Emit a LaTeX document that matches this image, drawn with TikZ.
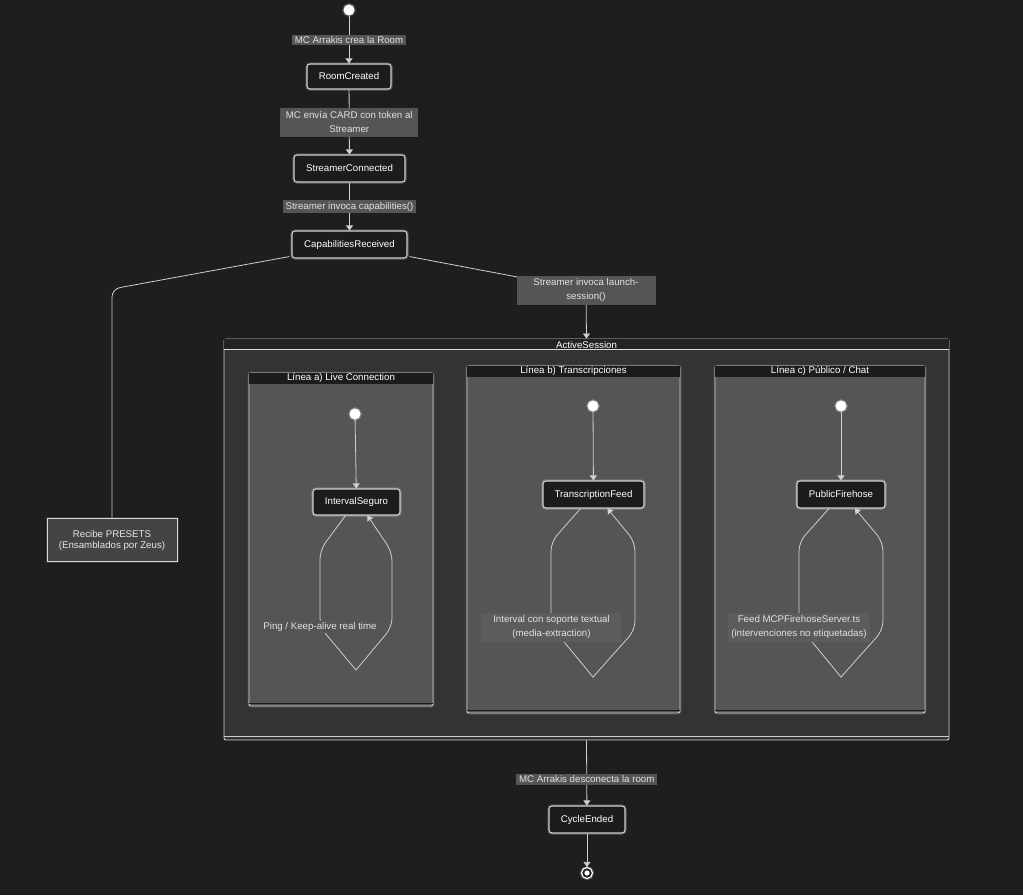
\documentclass[tikz,border=0pt]{standalone}
\usepackage{fontspec}
\setmainfont{Liberation Sans}
\usetikzlibrary{arrows.meta}
\definecolor{bg}{HTML}{1E1E1E}
\definecolor{linec}{HTML}{CFCFCF}
\definecolor{nodefill}{HTML}{1C1C1C}
\definecolor{nodeborder}{HTML}{D0D0D0}
\definecolor{lblfill}{HTML}{555555}
\definecolor{lbltext}{HTML}{E2E2E2}
\definecolor{asfill}{HTML}{333333}
\definecolor{astitle}{HTML}{232323}
\definecolor{subfill}{HTML}{555555}
\definecolor{subtitle}{HTML}{1C1C1C}
\definecolor{sublbl}{HTML}{5C5C5C}
\definecolor{presetfill}{HTML}{444444}
\newcommand\myfs{\fontsize{9.7}{14.5}\selectfont}
\newcommand\myfst{\fontsize{9.7}{11}\selectfont}
\tikzset{
  st/.style={draw=nodeborder, fill=nodefill, rounded corners=3pt, text=white, font=\myfs,
    line width=1.1pt, inner sep=0pt, preaction={draw=white, draw opacity=0.18, line width=3.5pt}},
  lbl/.style={fill=lblfill, text=lbltext, font=\myfs, inner xsep=3pt, inner ysep=1.5pt, align=center},
  sublabel/.style={text=lbltext, font=\myfs, inner xsep=3pt, inner ysep=1.5pt, align=center},
  edge/.style={draw=linec, line width=0.8pt, -{Triangle[width=7pt,length=5pt]}},
  startc/.style={circle, fill=white, minimum size=11pt, inner sep=0pt,
    preaction={draw=white, draw opacity=0.25, line width=2.5pt}},
  frame/.style={draw=linec, line width=0.9pt, rounded corners=2pt, inner sep=0pt},
  ttl/.style={text=white, font=\myfst, inner sep=0pt},
}
\begin{document}
\begin{tikzpicture}[x=1pt,y=-1pt]
\useasboundingbox (0,0) rectangle (1023,895);
\fill[bg] (0,0) rectangle (1023,895);

% main chain
\node[startc] (s0) at (349,10) {};
\node[st, minimum width=84pt, minimum height=25pt] (rc) at (349,76.5) {RoomCreated};
\node[st, minimum width=111pt, minimum height=27pt] (sc) at (349.5,168.5) {StreamerConnected};
\node[st, minimum width=115pt, minimum height=27pt] (cr) at (349.5,244.5) {CapabilitiesReceived};

\draw[edge] (s0) -- node[lbl] {MC Arrakis crea la Room} (rc);
\draw[edge] (rc) -- node[lbl, minimum width=138pt, minimum height=29pt] {MC envía CARD con token al\\Streamer} (sc);
\draw[edge] (sc) -- node[lbl] {Streamer invoca capabilities()} (cr);

% presets
\node[draw=linec!80, fill=presetfill, line width=1pt, text=lbltext!85, font=\myfst, align=center,
      minimum width=130pt, minimum height=43pt, inner sep=0pt,
      preaction={draw=white, draw opacity=0.12, line width=3pt}] (pre) at (112,540) {Recibe PRESETS\\(Ensamblados por Zeus)};
\coordinate (lc) at (112,289);
\draw[draw=linec, line width=0.8pt, rounded corners=8pt] ([xshift=-2pt,yshift=2pt]cr.south west) -- (lc) -- (pre.north);

% active session
\node[frame, fill=asfill, minimum width=725pt, minimum height=401pt] (as) at (586.5,539.5) {};
\fill[astitle] ([xshift=0.5pt,yshift=-0.5pt]as.north west) rectangle ([xshift=-0.5pt,yshift=-11pt]as.north east);
\draw[linec!70, line width=0.6pt] ([yshift=-11pt]as.north west) -- ([yshift=-11pt]as.north east);
\node[ttl] (ast) at (586.5,345.5) {ActiveSession};
\draw[linec, line width=0.8pt] ([yshift=4pt]as.south west) -- ([yshift=4pt]as.south east);

\coordinate (rcn) at (586,290);
\draw[edge, rounded corners=8pt] ([xshift=2pt,yshift=2pt]cr.south east) -- (rcn) -- (as.north);
\node[lbl, minimum width=139pt, minimum height=29pt] (llaunch) at (rcn) {Streamer invoca launch-\\session()};

% sub boxes
\foreach \nm/\cx/\w/\h/\t in {sa/341/184/333/{Línea a) Live Connection}, sb/573.5/213/347/{Línea b) Transcripciones}, sc2/820/210/347/{Línea c) Público / Chat}}{
  \node[frame, fill=subfill, minimum width=\w pt, minimum height=\h pt,
        preaction={draw=white, draw opacity=0.12, line width=3pt}] (\nm) at (\cx,539.5) {};
  \fill[subtitle] ([xshift=0.5pt,yshift=-0.5pt]\nm.north west) rectangle ([xshift=-0.5pt,yshift=-11pt]\nm.north east);
  \node[ttl] (\nm t) at ([yshift=-5.8pt]\nm.north) {\t};
  \draw[subtitle, line width=1.6pt] ([xshift=0.5pt,yshift=3pt]\nm.south west) -- ([xshift=-0.5pt,yshift=3pt]\nm.south east);
}

% line a
\node[startc] (ia) at (355,414) {};
\node[st, minimum width=87pt, minimum height=26pt] (na) at (356.5,502) {IntervalSeguro};
\draw[edge] (ia) -- (na);
\draw[edge, rounded corners=9pt] ([xshift=-11pt]na.south) -- (320,550) -- (320,627) [sharp corners] -- (356,670) [rounded corners=9pt] -- (392,627) -- (392,552) -- ([xshift=11pt]na.south);
\node[sublabel, fill=subfill] (la) at (320,627) {Ping / Keep-alive real time};

% line b
\node[startc] (ib) at (593,406) {};
\node[st, minimum width=101pt, minimum height=27pt] (nb) at (593.5,494.5) {TranscriptionFeed};
\draw[edge] (ib) -- (nb);
\draw[edge, rounded corners=9pt] ([xshift=-13pt]nb.south) -- (551,542) -- (551,626) [sharp corners] -- (593,677) [rounded corners=9pt] -- (635,630) -- (635,542) -- ([xshift=14pt]nb.south);
\node[sublabel, fill=sublbl, minimum width=141pt, minimum height=29pt] (lb) at (551.5,627) {Interval con soporte textual\\(media-extraction)};

% line c
\node[startc] (ic) at (841,406) {};
\node[st, minimum width=88pt, minimum height=27pt] (nc) at (841,494.5) {PublicFirehose};
\draw[edge] (ic) -- (nc);
\draw[edge, rounded corners=9pt] ([xshift=-12pt]nc.south) -- (799,542) -- (799,626) [sharp corners] -- (841,677) [rounded corners=9pt] -- (883,630) -- (883,542) -- ([xshift=14pt]nc.south);
\node[sublabel, fill=sublbl, minimum width=138pt, minimum height=29pt] (lc2) at (799,627) {Feed MCPFirehoseServer.ts\\(intervenciones no etiquetadas)};

% end
\node[st, minimum width=76pt, minimum height=27pt] (ce) at (587,819.5) {CycleEnded};
\draw[edge] (as.south) -- node[lbl, pos=0.6] {MC Arrakis desconecta la room} (ce);
\node[circle, draw=white, fill=bg, line width=1.2pt, minimum size=11pt, inner sep=0pt,
      preaction={draw=white, draw opacity=0.2, line width=3.5pt}] (fin) at (587,873) {};
\fill[white] (fin.center) circle (2.6pt);
\draw[edge] (ce) -- (fin);
\end{tikzpicture}
\end{document}
